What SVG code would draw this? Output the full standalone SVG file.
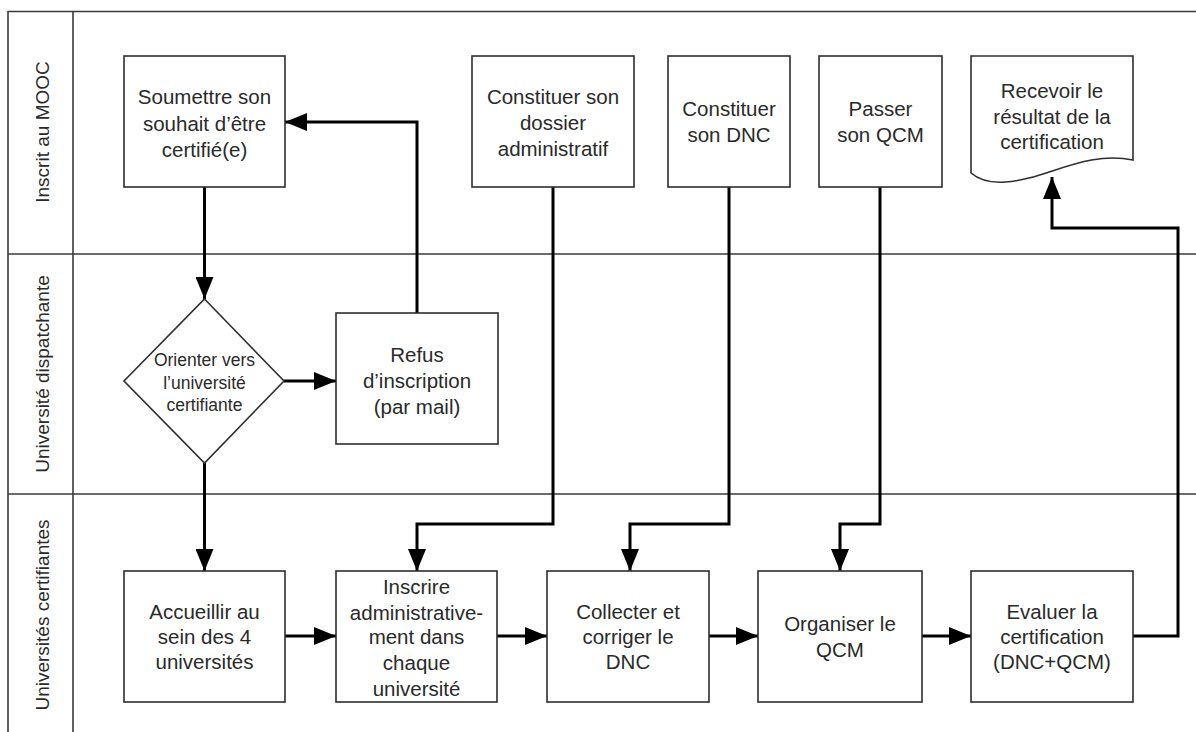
<svg xmlns="http://www.w3.org/2000/svg" width="1196" height="732" viewBox="0 0 1196 732">
<defs>
<style>
.lane{stroke:#3a3a3a;stroke-width:1.6;fill:none}
.box{fill:#fff;stroke:#2e2e2e;stroke-width:1.6}
.t{font-family:"Liberation Sans",Arial,sans-serif;font-size:20.5px;fill:#2a2a2a;text-anchor:middle}
.ts{font-family:"Liberation Sans",Arial,sans-serif;font-size:17.5px;fill:#2a2a2a;text-anchor:middle}
.lbl{font-family:"Liberation Sans",Arial,sans-serif;font-size:19px;fill:#2a2a2a;text-anchor:middle}
.c{fill:none;stroke:#000;stroke-width:3;marker-end:url(#ah)}
</style>
<marker id="ah" markerUnits="userSpaceOnUse" markerWidth="22" markerHeight="18" refX="22" refY="9" orient="auto">
<path d="M0,0 L22,9 L0,18 Z" fill="#000"/>
</marker>
</defs>
<rect width="1196" height="732" fill="#fff"/>
<g id="lanes">
<line class="lane" x1="8" y1="11.5" x2="1196" y2="11.5"/>
<line class="lane" x1="8" y1="11" x2="8" y2="732"/>
<line class="lane" x1="73" y1="11" x2="73" y2="732"/>
<line class="lane" x1="8" y1="254" x2="1196" y2="254"/>
<line class="lane" x1="8" y1="494" x2="1196" y2="494"/>
<text class="lbl" transform="translate(49,132) rotate(-90)">Inscrit au MOOC</text>
<text class="lbl" transform="translate(49,374) rotate(-90)">Université dispatchante</text>
<text class="lbl" transform="translate(49,615) rotate(-90)">Universités certifiantes</text>
</g>
<g id="connectors">
<path class="c" d="M204.5,187 V299"/>
<path class="c" d="M204.5,463 V571"/>
<path class="c" d="M284,381 H336"/>
<path class="c" d="M417,313 V122 H285"/>
<path class="c" d="M553,187 V524 H417 V571"/>
<path class="c" d="M729,187 V524 H630 V571"/>
<path class="c" d="M880,187 V524 H840 V571"/>
<path class="c" d="M285,636 H336"/>
<path class="c" d="M497,636 H547"/>
<path class="c" d="M709,636 H758"/>
<path class="c" d="M922,636 H971"/>
<path class="c" d="M1133,636 H1178 V228 H1052 V177"/>
</g>
<g id="soumettre">
<rect class="box" x="124" y="56" width="161" height="131"/>
<text class="t" x="204.5" y="104">Soumettre son</text>
<text class="t" x="204.5" y="130.5">souhait d’être</text>
<text class="t" x="204.5" y="157">certifié(e)</text>
</g>
<g id="dossier">
<rect class="box" x="472" y="56" width="162" height="131"/>
<text class="t" x="553" y="104">Constituer son</text>
<text class="t" x="553" y="130">dossier</text>
<text class="t" x="553" y="156">administratif</text>
</g>
<g id="dnc">
<rect class="box" x="668" y="56" width="122" height="131"/>
<text class="t" x="729" y="115.5">Constituer</text>
<text class="t" x="729" y="142">son DNC</text>
</g>
<g id="qcm">
<rect class="box" x="819" y="56" width="123" height="131"/>
<text class="t" x="880.5" y="115.5">Passer</text>
<text class="t" x="880.5" y="142">son QCM</text>
</g>
<g id="recevoir">
<path class="box" d="M971,56 H1133 V160 C1085,150 1045,180 1005,182 C990,183 978,179 971,173 Z"/>
<text class="t" x="1052" y="97.5">Recevoir le</text>
<text class="t" x="1052" y="124">résultat de la</text>
<text class="t" x="1052" y="149">certification</text>
</g>
<g id="orienter">
<polygon class="box" points="204.5,299 284,381 204.5,463 124,381"/>
<text class="ts" x="204.5" y="366">Orienter vers</text>
<text class="ts" x="204.5" y="388.5">l’université</text>
<text class="ts" x="204.5" y="410.5">certifiante</text>
</g>
<g id="refus">
<rect class="box" x="336" y="313" width="162" height="131"/>
<text class="t" x="417" y="361.5">Refus</text>
<text class="t" x="417" y="387.5">d’inscription</text>
<text class="t" x="417" y="414">(par mail)</text>
</g>
<g id="accueillir">
<rect class="box" x="124" y="571" width="161" height="131"/>
<text class="t" x="204.5" y="619">Accueillir au</text>
<text class="t" x="204.5" y="643.5">sein des 4</text>
<text class="t" x="204.5" y="669">universités</text>
</g>
<g id="inscrire">
<rect class="box" x="336" y="571" width="161" height="131"/>
<text class="t" x="416.5" y="594">Inscrire</text>
<text class="t" x="416.5" y="620">administrative-</text>
<text class="t" x="416.5" y="644">ment dans</text>
<text class="t" x="416.5" y="670">chaque</text>
<text class="t" x="416.5" y="695.5">université</text>
</g>
<g id="collecter">
<rect class="box" x="547" y="571" width="162" height="131"/>
<text class="t" x="628" y="619">Collecter et</text>
<text class="t" x="628" y="644">corriger le</text>
<text class="t" x="628" y="669">DNC</text>
</g>
<g id="organiser">
<rect class="box" x="758" y="571" width="164" height="131"/>
<text class="t" x="840" y="631">Organiser le</text>
<text class="t" x="840" y="657">QCM</text>
</g>
<g id="evaluer">
<rect class="box" x="971" y="571" width="162" height="131"/>
<text class="t" x="1052" y="618.5">Evaluer la</text>
<text class="t" x="1052" y="644">certification</text>
<text class="t" x="1052" y="669">(DNC+QCM)</text>
</g>
</svg>
